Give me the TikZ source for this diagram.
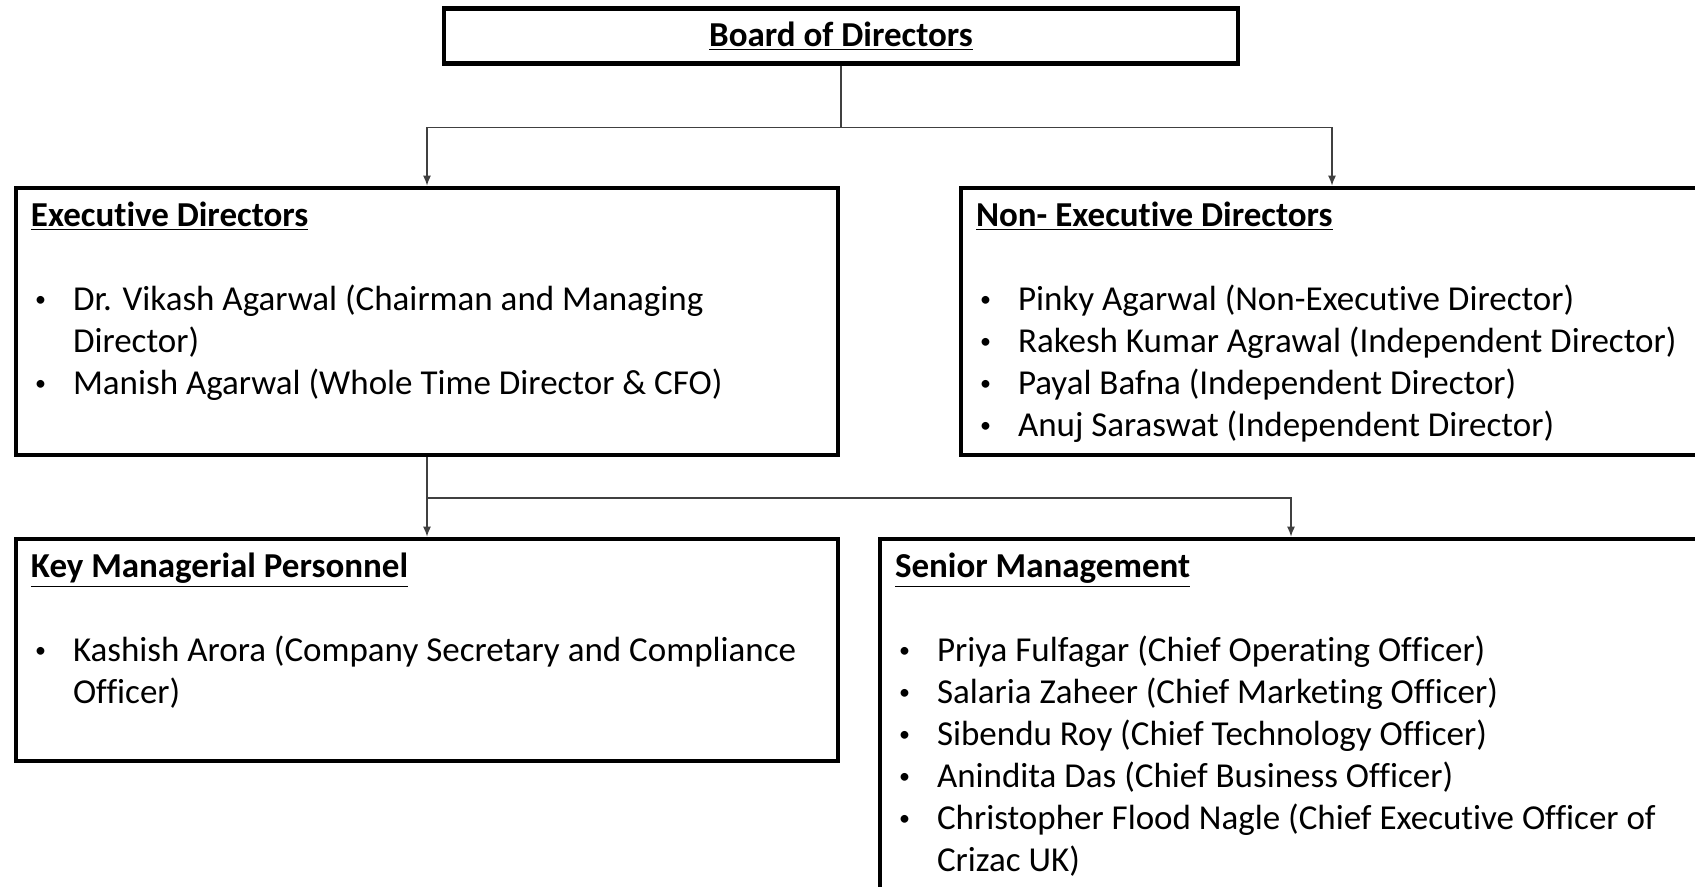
\documentclass[tikz,border=0pt]{standalone}
\usepackage{fontspec}
\setmainfont[Ligatures=NoCommon]{Carlito}
\usepackage{array}
\usetikzlibrary{arrows.meta,positioning}
\newcommand{\boxtitle}[1]{\underline{\textbf{#1}}}
\newcommand{\dotitem}{\raisebox{2pt}{\fontsize{11}{11}\selectfont\textbullet}}

\begin{document}
\begin{tikzpicture}[x=0.5pt,y=-0.5pt]
  \tikzstyle{orgbox}=[rectangle,draw=black,line width=2.4pt,inner sep=0pt,font=\fontsize{17.5}{21}\selectfont]
  \tikzstyle{boxtext}=[align=left,inner sep=0pt,font=\fontsize{17.5}{21}\selectfont]
  \tikzstyle{conn}=[draw=black!75,line width=0.6pt]
  \useasboundingbox (0,0) rectangle (1695,887);
  \clip (0,0) rectangle (1695,887);

  \node[orgbox,minimum width=397pt,minimum height=27.5pt] (board) at (841,36) {\boxtitle{Board of Directors}};
  \node[orgbox,minimum width=411pt,minimum height=133.5pt] (exec) at (427,321.5) {};
  \node[orgbox,minimum width=371pt,minimum height=133.5pt] (nonexec) at (1332,321.5) {};
  \node[orgbox,minimum width=411pt,minimum height=111pt] (kmp) at (427,650) {};
  \node[orgbox,minimum width=411pt,minimum height=185.5pt] (senior) at (1291,724.5) {};

  \node[boxtext,below right=8pt and 8.5pt of exec.north west] (exectxt) {\boxtitle{Executive Directors}\\[21pt]
    \begin{tabular}[t]{@{\hspace{2pt}}p{19pt}@{}l@{}}
      \dotitem & Dr. Vikash Agarwal (Chairman and Managing\\
               & Director)\\
      \dotitem & Manish Agarwal (Whole Time Director \& CFO)
    \end{tabular}};
  \node[boxtext,below right=8pt and 8.5pt of nonexec.north west] (nonexectxt) {\boxtitle{Non- Executive Directors}\\[21pt]
    \begin{tabular}[t]{@{\hspace{2pt}}p{19pt}@{}l@{}}
      \dotitem & Pinky Agarwal (Non-Executive Director)\\
      \dotitem & Rakesh Kumar Agrawal (Independent Director)\\
      \dotitem & Payal Bafna (Independent Director)\\
      \dotitem & Anuj Saraswat (Independent Director)
    \end{tabular}};
  \node[boxtext,below right=8pt and 8.5pt of kmp.north west] (kmptxt) {\boxtitle{Key Managerial Personnel}\\[21pt]
    \begin{tabular}[t]{@{\hspace{2pt}}p{19pt}@{}l@{}}
      \dotitem & Kashish Arora (Company Secretary and Compliance\\
               & Officer)
    \end{tabular}};
  \node[boxtext,below right=8pt and 8.5pt of senior.north west] (seniortxt) {\boxtitle{Senior Management}\\[21pt]
    \begin{tabular}[t]{@{\hspace{2pt}}p{19pt}@{}l@{}}
      \dotitem & Priya Fulfagar (Chief Operating Officer)\\
      \dotitem & Salaria Zaheer (Chief Marketing Officer)\\
      \dotitem & Sibendu Roy (Chief Technology Officer)\\
      \dotitem & Anindita Das (Chief Business Officer)\\
      \dotitem & Christopher Flood Nagle (Chief Executive Officer of\\
               & Crizac UK)
    \end{tabular}};

  \coordinate (split1) at (841,127.5);
  \coordinate (split2) at (427,498);

  \draw[conn] (board) -- (split1);
  \draw[conn,-{Latex[length=5pt,width=4pt]}] (split1) -| (exec.north);
  \draw[conn,-{Latex[length=5pt,width=4pt]}] (split1) -| (nonexec.north);
  \draw[conn,-{Latex[length=5pt,width=4pt]}] (exec) -- (kmp);
  \draw[conn,-{Latex[length=5pt,width=4pt]}] (split2) -| (senior.north);
\end{tikzpicture}
\end{document}
